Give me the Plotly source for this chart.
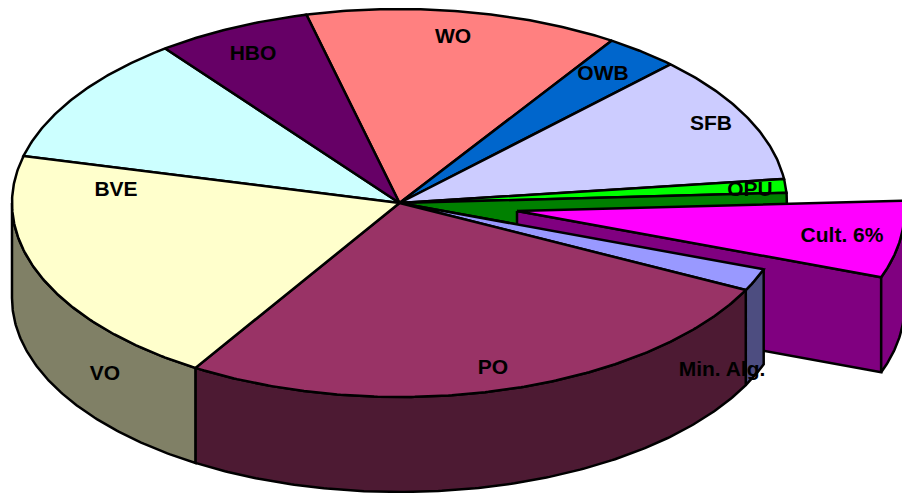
import numpy as np
import plotly.graph_objects as go

# Slice shares in percent, clockwise from the WO / HBO boundary
slice_names = ["WO", "OWB", "SFB", "OPU", "Groen", "Cult. 6%", "Min. Alg.", "PO", "BVE", "Blauw", "HBO"]
slice_values = [13.08, 3.11, 10.69, 1.14, 0.83, 5.56, 1.86, 26.42, 20.06, 10.78, 6.47]
top_colors = ["#FF8080", "#0066CC", "#CCCCFF", "#00FF00", "#008000", "#FF00FF",
              "#9999FF", "#993366", "#FFFFCC", "#CCFFFF", "#660066"]
side_colors = ["#804040", "#003366", "#666680", "#008000", "#004000", "#800080",
               "#4D4D80", "#4D1A33", "#808066", "#668080", "#330033"]
label_texts = ["WO", "OWB", "SFB", "OPU", "BVE", "VO", "PO", "Min. Alg.", "Cult. 6%", "HBO"]
label_x = [453, 603, 711, 750, 116, 105, 493, 722, 842, 253]
label_y = [38, 75, 125, 191, 191, 375, 369, 371, 237, 55]

# Projection of the tilted pie onto the page
CX, CY, RX, RY, DEPTH = 399.5, 203.0, 387.5, 194.0, 95.0
START_ANGLE = 103.9
CULT_CX, CULT_CY, CULT_TILT = 517.0, 211.0, 3.0

bounds = START_ANGLE - np.cumsum([0] + slice_values) * 3.6
spans = {n: (bounds[i], bounds[i + 1]) for i, n in enumerate(slice_names)}
color_top = dict(zip(slice_names, top_colors))
color_side = dict(zip(slice_names, side_colors))


def arc(a0, a1, cx=CX, cy=CY, dy=0.0):
    t = np.radians(np.linspace(a0, a1, max(int(abs(a1 - a0) * 2), 2) + 1))
    return cx + RX * np.cos(t), cy + dy - RY * np.sin(t)


def poly(x, y, fill):
    return go.Scatter(x=list(x) + [x[0]], y=list(y) + [y[0]], mode="lines", fill="toself",
                      fillcolor=fill, line=dict(color="black", width=2.5), hoverinfo="skip",
                      showlegend=False)


def top(a0, a1, fill, cx=CX, cy=CY):
    x, y = arc(a0, a1, cx, cy)
    return poly(np.r_[cx, x], np.r_[cy, y], fill)


def side(a0, a1, fill, cx=CX, cy=CY):
    x0, y0 = arc(a0, a1, cx, cy)
    x1, y1 = arc(a1, a0, cx, cy, DEPTH)
    return poly(np.r_[x0, x1], np.r_[y0, y1], fill)


traces = []
# Back slices, top faces
for n in ["WO", "OWB", "SFB", "OPU", "Blauw", "HBO"]:
    traces.append(top(*spans[n], color_top[n]))

# The dark green slice also shows through the gap left by the pulled-out slice
g0 = spans["Groen"][0]
m0 = spans["Min. Alg."][0]
traces.append(top(g0, m0, color_top["Groen"]))

# Pulled-out slice: cut wall, outer wall, top
c0, c1 = spans["Cult. 6%"]
cx_end, cy_end = arc(c1, c1, CULT_CX, CULT_CY)
wall_x = [CULT_CX, cx_end[-1], cx_end[-1], CULT_CX]
wall_y = [CULT_CY, cy_end[-1], cy_end[-1] + DEPTH, CULT_CY + DEPTH]
traces.append(poly(wall_x, wall_y, color_side["Cult. 6%"]))
traces.append(side(c1, c0 + CULT_TILT, color_side["Cult. 6%"], CULT_CX, CULT_CY))
traces.append(top(c0 + CULT_TILT, c1, color_top["Cult. 6%"], CULT_CX, CULT_CY))

# Front walls
for n in ["Min. Alg.", "PO"]:
    traces.append(side(*spans[n], color_side[n]))
a0, a1 = spans["BVE"]
traces.append(side(a0, -180, color_side["BVE"]))

# Front slices, top faces
for n in ["Min. Alg.", "PO", "BVE"]:
    traces.append(top(*spans[n], color_top[n]))

traces.append(go.Scatter(x=label_x, y=label_y, mode="text", text=label_texts, textposition="middle center",
                         textfont=dict(family="Liberation Sans", size=21, color="black", weight="bold"),
                         hoverinfo="skip", showlegend=False))

fig = go.Figure(traces)
fig.update_layout(width=902, height=493, margin=dict(l=0, r=0, t=0, b=0),
                  paper_bgcolor="white", plot_bgcolor="white", showlegend=False,
                  xaxis=dict(range=[0, 902], visible=False, fixedrange=True),
                  yaxis=dict(range=[493, 0], visible=False, fixedrange=True))
fig.write_html("out.html", post_script="document.body.style.margin='0';",
               config={"displayModeBar": False})
